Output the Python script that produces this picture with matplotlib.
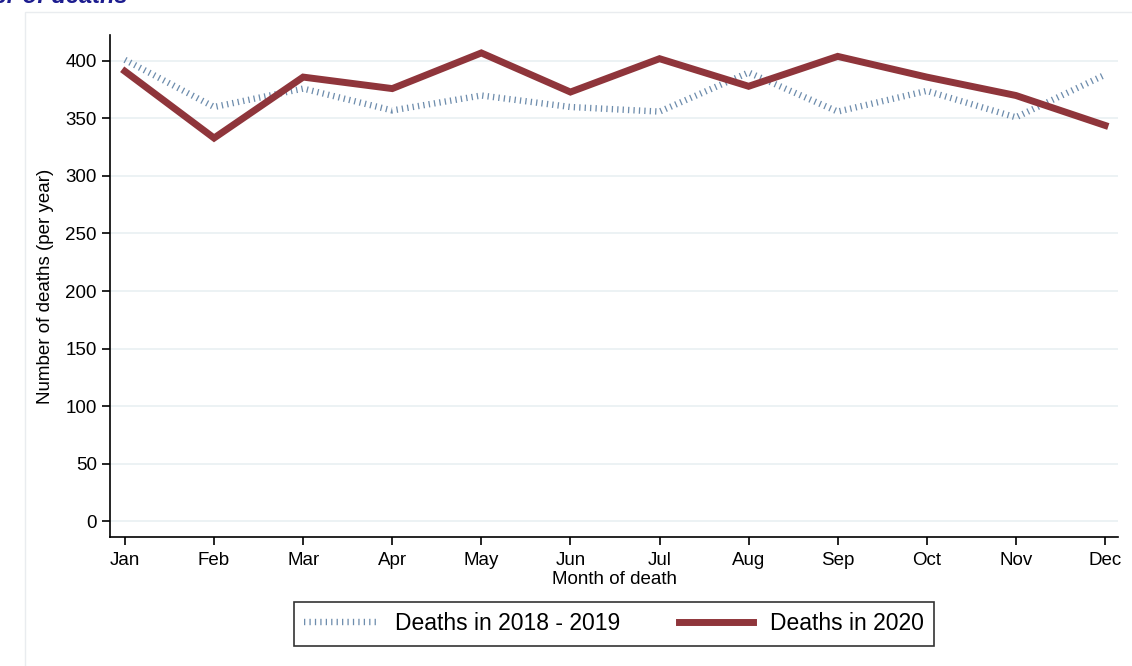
import matplotlib.pyplot as plt
from matplotlib.patches import Rectangle

plt.rcParams['font.family'] = ['Liberation Sans', 'DejaVu Sans']

months = ['Jan', 'Feb', 'Mar', 'Apr', 'May', 'Jun', 'Jul', 'Aug', 'Sep', 'Oct', 'Nov', 'Dec']
deaths_2018_2019 = [401, 360, 376, 357, 370, 360, 356, 390, 356, 374, 351, 388]
deaths_2020 = [391, 333, 386, 376, 407, 373, 402, 378, 404, 386, 370, 344]
y_ticks = [0, 50, 100, 150, 200, 250, 300, 350, 400]

fig = plt.figure(figsize=(11.32, 6.66), dpi=100)
fig.patch.set_facecolor('white')

# light frame around the graph region
fig.add_artist(Rectangle((25 / 1132, -0.01), 1.0, 1 - 12 / 666 + 0.01, transform=fig.transFigure,
                         facecolor='none', edgecolor='#e9ecef', linewidth=1))

# cropped panel title at the very top (only its lower part shows, as in the source)
fig.text(128 / 1132, 1 - 2.5 / 666, 'F) Number of deaths', ha='right', va='baseline',
         fontsize=17, fontweight='bold', fontstyle='italic', color='#1c1c8f')

ax = fig.add_axes([110 / 1132, 1 - 537 / 666, 1008 / 1132, 502 / 666])
x = list(range(len(months)))

ax.plot(x, deaths_2018_2019, color='#6e8dad', linewidth=4.6, linestyle=(0, (0.2, 0.65)),
        dash_capstyle='butt', solid_joinstyle='miter', label='Deaths in 2018 - 2019', zorder=3)
ax.plot(x, deaths_2020, color='#8f353b', linewidth=5, solid_joinstyle='miter',
        label='Deaths in 2020', zorder=4)

ax.set_xlim(-0.168, 11.146)
ax.set_ylim(-13.9, 422.6)
ax.set_yticks(y_ticks)
ax.set_xticks(x)
ax.set_xticklabels(months)
ax.yaxis.grid(True, color='#eaf1f3', linewidth=1.3)
ax.set_axisbelow(True)

for side in ['top', 'right']:
    ax.spines[side].set_visible(False)
for side in ['left', 'bottom']:
    ax.spines[side].set_color('black')
    ax.spines[side].set_linewidth(1.2)

ax.tick_params(axis='both', direction='out', length=6, width=1.2, labelsize=13.5, colors='black')
ax.tick_params(axis='x', pad=5)
ax.set_xlabel('Month of death', fontsize=13.5, labelpad=1)
ax.set_ylabel('Number of deaths (per year)', fontsize=13.5, labelpad=8)

leg = fig.legend(loc='center', bbox_to_anchor=(614 / 1132, 1 - 624 / 666), ncol=2,
                 fontsize=16.5, frameon=True, fancybox=False, edgecolor='black',
                 handlelength=3.2, columnspacing=2.6, handletextpad=0.75,
                 borderpad=0.45)
leg.get_frame().set_linewidth(1.2)

fig.savefig('out.png', dpi=100, facecolor='white')
